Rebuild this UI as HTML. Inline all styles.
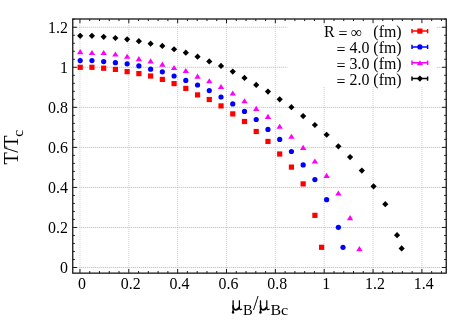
<!DOCTYPE html>
<html><head><meta charset="utf-8"><title>T/Tc vs muB/muBc</title>
<style>html,body{margin:0;padding:0;background:#fff;}body{width:475px;height:332px;overflow:hidden;}svg{display:block;}text{font-family:"Liberation Serif",serif;fill:#000;}svg{will-change:transform;}</style>
</head><body>
<svg width="475" height="332" viewBox="0 0 475 332">
<rect x="0" y="0" width="475" height="332" fill="#ffffff"/>
<g stroke="#cfcfcf" stroke-width="1" stroke-dasharray="1 1" fill="none">
<line x1="79.95" y1="19" x2="79.95" y2="273.15"/>
<line x1="128.8" y1="19" x2="128.8" y2="273.15"/>
<line x1="177.65" y1="19" x2="177.65" y2="273.15"/>
<line x1="226.5" y1="19" x2="226.5" y2="273.15"/>
<line x1="275.35" y1="19" x2="275.35" y2="273.15"/>
<line x1="324.2" y1="19" x2="324.2" y2="273.15"/>
<line x1="373.05" y1="19" x2="373.05" y2="273.15"/>
<line x1="421.9" y1="19" x2="421.9" y2="273.15"/>
</g>
<g stroke="#b6b6b6" stroke-width="1" stroke-dasharray="1 1" fill="none">
<line x1="72.75" y1="267.5" x2="446.25" y2="267.5"/>
<line x1="72.75" y1="227.46" x2="446.25" y2="227.46"/>
<line x1="72.75" y1="187.42" x2="446.25" y2="187.42"/>
<line x1="72.75" y1="147.38" x2="446.25" y2="147.38"/>
<line x1="72.75" y1="107.34" x2="446.25" y2="107.34"/>
<line x1="72.75" y1="67.3" x2="446.25" y2="67.3"/>
<line x1="72.75" y1="27.26" x2="446.25" y2="27.26"/>
</g>
<rect x="287.4" y="19.4" width="148.8" height="66.8" fill="#ffffff"/>
<g stroke="#1c1c1c" stroke-width="1" fill="none">
<line x1="79.95" y1="273.15" x2="79.95" y2="268.95"/>
<line x1="79.95" y1="19" x2="79.95" y2="23.2"/>
<line x1="89.72" y1="273.15" x2="89.72" y2="271.05"/>
<line x1="89.72" y1="19" x2="89.72" y2="21.1"/>
<line x1="99.49" y1="273.15" x2="99.49" y2="271.05"/>
<line x1="99.49" y1="19" x2="99.49" y2="21.1"/>
<line x1="109.26" y1="273.15" x2="109.26" y2="271.05"/>
<line x1="109.26" y1="19" x2="109.26" y2="21.1"/>
<line x1="119.03" y1="273.15" x2="119.03" y2="271.05"/>
<line x1="119.03" y1="19" x2="119.03" y2="21.1"/>
<line x1="128.8" y1="273.15" x2="128.8" y2="268.95"/>
<line x1="128.8" y1="19" x2="128.8" y2="23.2"/>
<line x1="138.57" y1="273.15" x2="138.57" y2="271.05"/>
<line x1="138.57" y1="19" x2="138.57" y2="21.1"/>
<line x1="148.34" y1="273.15" x2="148.34" y2="271.05"/>
<line x1="148.34" y1="19" x2="148.34" y2="21.1"/>
<line x1="158.11" y1="273.15" x2="158.11" y2="271.05"/>
<line x1="158.11" y1="19" x2="158.11" y2="21.1"/>
<line x1="167.88" y1="273.15" x2="167.88" y2="271.05"/>
<line x1="167.88" y1="19" x2="167.88" y2="21.1"/>
<line x1="177.65" y1="273.15" x2="177.65" y2="268.95"/>
<line x1="177.65" y1="19" x2="177.65" y2="23.2"/>
<line x1="187.42" y1="273.15" x2="187.42" y2="271.05"/>
<line x1="187.42" y1="19" x2="187.42" y2="21.1"/>
<line x1="197.19" y1="273.15" x2="197.19" y2="271.05"/>
<line x1="197.19" y1="19" x2="197.19" y2="21.1"/>
<line x1="206.96" y1="273.15" x2="206.96" y2="271.05"/>
<line x1="206.96" y1="19" x2="206.96" y2="21.1"/>
<line x1="216.73" y1="273.15" x2="216.73" y2="271.05"/>
<line x1="216.73" y1="19" x2="216.73" y2="21.1"/>
<line x1="226.5" y1="273.15" x2="226.5" y2="268.95"/>
<line x1="226.5" y1="19" x2="226.5" y2="23.2"/>
<line x1="236.27" y1="273.15" x2="236.27" y2="271.05"/>
<line x1="236.27" y1="19" x2="236.27" y2="21.1"/>
<line x1="246.04" y1="273.15" x2="246.04" y2="271.05"/>
<line x1="246.04" y1="19" x2="246.04" y2="21.1"/>
<line x1="255.81" y1="273.15" x2="255.81" y2="271.05"/>
<line x1="255.81" y1="19" x2="255.81" y2="21.1"/>
<line x1="265.58" y1="273.15" x2="265.58" y2="271.05"/>
<line x1="265.58" y1="19" x2="265.58" y2="21.1"/>
<line x1="275.35" y1="273.15" x2="275.35" y2="268.95"/>
<line x1="275.35" y1="19" x2="275.35" y2="23.2"/>
<line x1="285.12" y1="273.15" x2="285.12" y2="271.05"/>
<line x1="285.12" y1="19" x2="285.12" y2="21.1"/>
<line x1="294.89" y1="273.15" x2="294.89" y2="271.05"/>
<line x1="294.89" y1="19" x2="294.89" y2="21.1"/>
<line x1="304.66" y1="273.15" x2="304.66" y2="271.05"/>
<line x1="304.66" y1="19" x2="304.66" y2="21.1"/>
<line x1="314.43" y1="273.15" x2="314.43" y2="271.05"/>
<line x1="314.43" y1="19" x2="314.43" y2="21.1"/>
<line x1="324.2" y1="273.15" x2="324.2" y2="268.95"/>
<line x1="324.2" y1="19" x2="324.2" y2="23.2"/>
<line x1="333.97" y1="273.15" x2="333.97" y2="271.05"/>
<line x1="333.97" y1="19" x2="333.97" y2="21.1"/>
<line x1="343.74" y1="273.15" x2="343.74" y2="271.05"/>
<line x1="343.74" y1="19" x2="343.74" y2="21.1"/>
<line x1="353.51" y1="273.15" x2="353.51" y2="271.05"/>
<line x1="353.51" y1="19" x2="353.51" y2="21.1"/>
<line x1="363.28" y1="273.15" x2="363.28" y2="271.05"/>
<line x1="363.28" y1="19" x2="363.28" y2="21.1"/>
<line x1="373.05" y1="273.15" x2="373.05" y2="268.95"/>
<line x1="373.05" y1="19" x2="373.05" y2="23.2"/>
<line x1="382.82" y1="273.15" x2="382.82" y2="271.05"/>
<line x1="382.82" y1="19" x2="382.82" y2="21.1"/>
<line x1="392.59" y1="273.15" x2="392.59" y2="271.05"/>
<line x1="392.59" y1="19" x2="392.59" y2="21.1"/>
<line x1="402.36" y1="273.15" x2="402.36" y2="271.05"/>
<line x1="402.36" y1="19" x2="402.36" y2="21.1"/>
<line x1="412.13" y1="273.15" x2="412.13" y2="271.05"/>
<line x1="412.13" y1="19" x2="412.13" y2="21.1"/>
<line x1="421.9" y1="273.15" x2="421.9" y2="268.95"/>
<line x1="421.9" y1="19" x2="421.9" y2="23.2"/>
<line x1="431.67" y1="273.15" x2="431.67" y2="271.05"/>
<line x1="431.67" y1="19" x2="431.67" y2="21.1"/>
<line x1="441.44" y1="273.15" x2="441.44" y2="271.05"/>
<line x1="441.44" y1="19" x2="441.44" y2="21.1"/>
<line x1="72.75" y1="267.5" x2="76.95" y2="267.5"/>
<line x1="446.25" y1="267.5" x2="442.05" y2="267.5"/>
<line x1="72.75" y1="259.49" x2="74.85" y2="259.49"/>
<line x1="446.25" y1="259.49" x2="444.15" y2="259.49"/>
<line x1="72.75" y1="251.48" x2="74.85" y2="251.48"/>
<line x1="446.25" y1="251.48" x2="444.15" y2="251.48"/>
<line x1="72.75" y1="243.48" x2="74.85" y2="243.48"/>
<line x1="446.25" y1="243.48" x2="444.15" y2="243.48"/>
<line x1="72.75" y1="235.47" x2="74.85" y2="235.47"/>
<line x1="446.25" y1="235.47" x2="444.15" y2="235.47"/>
<line x1="72.75" y1="227.46" x2="76.95" y2="227.46"/>
<line x1="446.25" y1="227.46" x2="442.05" y2="227.46"/>
<line x1="72.75" y1="219.45" x2="74.85" y2="219.45"/>
<line x1="446.25" y1="219.45" x2="444.15" y2="219.45"/>
<line x1="72.75" y1="211.44" x2="74.85" y2="211.44"/>
<line x1="446.25" y1="211.44" x2="444.15" y2="211.44"/>
<line x1="72.75" y1="203.44" x2="74.85" y2="203.44"/>
<line x1="446.25" y1="203.44" x2="444.15" y2="203.44"/>
<line x1="72.75" y1="195.43" x2="74.85" y2="195.43"/>
<line x1="446.25" y1="195.43" x2="444.15" y2="195.43"/>
<line x1="72.75" y1="187.42" x2="76.95" y2="187.42"/>
<line x1="446.25" y1="187.42" x2="442.05" y2="187.42"/>
<line x1="72.75" y1="179.41" x2="74.85" y2="179.41"/>
<line x1="446.25" y1="179.41" x2="444.15" y2="179.41"/>
<line x1="72.75" y1="171.4" x2="74.85" y2="171.4"/>
<line x1="446.25" y1="171.4" x2="444.15" y2="171.4"/>
<line x1="72.75" y1="163.4" x2="74.85" y2="163.4"/>
<line x1="446.25" y1="163.4" x2="444.15" y2="163.4"/>
<line x1="72.75" y1="155.39" x2="74.85" y2="155.39"/>
<line x1="446.25" y1="155.39" x2="444.15" y2="155.39"/>
<line x1="72.75" y1="147.38" x2="76.95" y2="147.38"/>
<line x1="446.25" y1="147.38" x2="442.05" y2="147.38"/>
<line x1="72.75" y1="139.37" x2="74.85" y2="139.37"/>
<line x1="446.25" y1="139.37" x2="444.15" y2="139.37"/>
<line x1="72.75" y1="131.36" x2="74.85" y2="131.36"/>
<line x1="446.25" y1="131.36" x2="444.15" y2="131.36"/>
<line x1="72.75" y1="123.36" x2="74.85" y2="123.36"/>
<line x1="446.25" y1="123.36" x2="444.15" y2="123.36"/>
<line x1="72.75" y1="115.35" x2="74.85" y2="115.35"/>
<line x1="446.25" y1="115.35" x2="444.15" y2="115.35"/>
<line x1="72.75" y1="107.34" x2="76.95" y2="107.34"/>
<line x1="446.25" y1="107.34" x2="442.05" y2="107.34"/>
<line x1="72.75" y1="99.33" x2="74.85" y2="99.33"/>
<line x1="446.25" y1="99.33" x2="444.15" y2="99.33"/>
<line x1="72.75" y1="91.32" x2="74.85" y2="91.32"/>
<line x1="446.25" y1="91.32" x2="444.15" y2="91.32"/>
<line x1="72.75" y1="83.32" x2="74.85" y2="83.32"/>
<line x1="446.25" y1="83.32" x2="444.15" y2="83.32"/>
<line x1="72.75" y1="75.31" x2="74.85" y2="75.31"/>
<line x1="446.25" y1="75.31" x2="444.15" y2="75.31"/>
<line x1="72.75" y1="67.3" x2="76.95" y2="67.3"/>
<line x1="446.25" y1="67.3" x2="442.05" y2="67.3"/>
<line x1="72.75" y1="59.29" x2="74.85" y2="59.29"/>
<line x1="446.25" y1="59.29" x2="444.15" y2="59.29"/>
<line x1="72.75" y1="51.28" x2="74.85" y2="51.28"/>
<line x1="446.25" y1="51.28" x2="444.15" y2="51.28"/>
<line x1="72.75" y1="43.28" x2="74.85" y2="43.28"/>
<line x1="446.25" y1="43.28" x2="444.15" y2="43.28"/>
<line x1="72.75" y1="35.27" x2="74.85" y2="35.27"/>
<line x1="446.25" y1="35.27" x2="444.15" y2="35.27"/>
<line x1="72.75" y1="27.26" x2="76.95" y2="27.26"/>
<line x1="446.25" y1="27.26" x2="442.05" y2="27.26"/>
<line x1="72.75" y1="19.25" x2="74.85" y2="19.25"/>
<line x1="446.25" y1="19.25" x2="444.15" y2="19.25"/>
</g>
<rect x="72.75" y="19" width="373.5" height="254.15" fill="none" stroke="#1c1c1c" stroke-width="1.33"/>
<g font-size="15.9px">
<text transform="translate(81.85,288.7) scale(1,1.07)" text-anchor="middle">0</text>
<text transform="translate(130.7,288.7) scale(1,1.07)" text-anchor="middle">0.2</text>
<text transform="translate(179.55,288.7) scale(1,1.07)" text-anchor="middle">0.4</text>
<text transform="translate(228.4,288.7) scale(1,1.07)" text-anchor="middle">0.6</text>
<text transform="translate(277.25,288.7) scale(1,1.07)" text-anchor="middle">0.8</text>
<text transform="translate(326.1,288.7) scale(1,1.07)" text-anchor="middle">1</text>
<text transform="translate(374.95,288.7) scale(1,1.07)" text-anchor="middle">1.2</text>
<text transform="translate(423.8,288.7) scale(1,1.07)" text-anchor="middle">1.4</text>
<text transform="translate(67.9,272.9) scale(1,1.07)" text-anchor="end">0</text>
<text transform="translate(67.9,232.86) scale(1,1.07)" text-anchor="end">0.2</text>
<text transform="translate(67.9,192.82) scale(1,1.07)" text-anchor="end">0.4</text>
<text transform="translate(67.9,152.78) scale(1,1.07)" text-anchor="end">0.6</text>
<text transform="translate(67.9,112.74) scale(1,1.07)" text-anchor="end">0.8</text>
<text transform="translate(67.9,72.7) scale(1,1.07)" text-anchor="end">1</text>
<text transform="translate(67.9,32.66) scale(1,1.07)" text-anchor="end">1.2</text>
</g>
<text transform="translate(17.6,164.4) rotate(-90)" font-size="20px" letter-spacing="-0.55">T/T<tspan font-size="15.5px" dy="5.8" dx="-0.6">c</tspan></text>
<g transform="translate(233.1,300.3)" stroke="#000" fill="none" stroke-width="1.3">
<path d="M0 0 V12.2"/>
<path d="M6.3 0 V7.4 C6.3 9.3 7.2 9.9 9.1 8.7" stroke-width="1.25"/>
<path d="M0 5.0 C0 9.5 1.4 9.6 2.6 9.6 C4.1 9.6 5.5 8.5 6.3 6.6" stroke-width="1.7"/>
<ellipse cx="-0.05" cy="12.0" rx="1.15" ry="1.5" fill="#000" stroke="none"/>
</g>
<g transform="translate(260.5,300.3)" stroke="#000" fill="none" stroke-width="1.3">
<path d="M0 0 V12.2"/>
<path d="M6.3 0 V7.4 C6.3 9.3 7.2 9.9 9.1 8.7" stroke-width="1.25"/>
<path d="M0 5.0 C0 9.5 1.4 9.6 2.6 9.6 C4.1 9.6 5.5 8.5 6.3 6.6" stroke-width="1.7"/>
<ellipse cx="-0.05" cy="12.0" rx="1.15" ry="1.5" fill="#000" stroke="none"/>
</g>
<text x="243.0" y="315.0" font-size="14.5px">B</text>
<text x="252.9" y="310.2" font-size="20px">/</text>
<text transform="translate(270.4,315.0) scale(1.1,1)" font-size="14.5px">Bc</text>
<g font-size="15.9px">
<text transform="translate(323.9,37.2) scale(1,1.07)">R <tspan dy="1.9">=</tspan></text>
<text transform="translate(351.0,38.4) scale(1,1.07)" font-size="15.8px">∞</text>
<text transform="translate(401.6,37.2) scale(1,1.07)" text-anchor="end">(fm)</text>
<text transform="translate(401.6,53) scale(1,1.07)" text-anchor="end"><tspan dy="1.9">=</tspan><tspan dy="-1.9"> 4.0 (fm)</tspan></text>
<text transform="translate(401.6,68.85) scale(1,1.07)" text-anchor="end"><tspan dy="1.9">=</tspan><tspan dy="-1.9"> 3.0 (fm)</tspan></text>
<text transform="translate(401.6,84.7) scale(1,1.07)" text-anchor="end"><tspan dy="1.9">=</tspan><tspan dy="-1.9"> 2.0 (fm)</tspan></text>
</g>
<path d="M412.0 31.1 H427.6 M412.0 28.9 V33.3 M427.6 28.9 V33.3" stroke="#ff0000" stroke-width="1.5" fill="none"/>
<path d="M412.0 46.9 H427.6 M412.0 44.7 V49.1 M427.6 44.7 V49.1" stroke="#0000ff" stroke-width="1.5" fill="none"/>
<path d="M412.0 62.75 H427.6 M412.0 60.55 V64.95 M427.6 60.55 V64.95" stroke="#ff00ff" stroke-width="1.5" fill="none"/>
<path d="M412.0 78.6 H427.6 M412.0 76.4 V80.8 M427.6 76.4 V80.8" stroke="#000000" stroke-width="1.5" fill="none"/>
<rect x="77.6" y="64.7" width="5.2" height="5.2" fill="#ff0000"/>
<rect x="89.34" y="64.7" width="5.2" height="5.2" fill="#ff0000"/>
<rect x="101.07" y="65.6" width="5.2" height="5.2" fill="#ff0000"/>
<rect x="112.81" y="66.8" width="5.2" height="5.2" fill="#ff0000"/>
<rect x="124.54" y="69.05" width="5.2" height="5.2" fill="#ff0000"/>
<rect x="136.28" y="71" width="5.2" height="5.2" fill="#ff0000"/>
<rect x="148.01" y="73.4" width="5.2" height="5.2" fill="#ff0000"/>
<rect x="159.75" y="76.8" width="5.2" height="5.2" fill="#ff0000"/>
<rect x="171.48" y="81" width="5.2" height="5.2" fill="#ff0000"/>
<rect x="183.22" y="85.8" width="5.2" height="5.2" fill="#ff0000"/>
<rect x="194.95" y="92.3" width="5.2" height="5.2" fill="#ff0000"/>
<rect x="206.68" y="96.9" width="5.2" height="5.2" fill="#ff0000"/>
<rect x="218.42" y="103.3" width="5.2" height="5.2" fill="#ff0000"/>
<rect x="230.16" y="111.3" width="5.2" height="5.2" fill="#ff0000"/>
<rect x="241.89" y="118.9" width="5.2" height="5.2" fill="#ff0000"/>
<rect x="253.62" y="128.9" width="5.2" height="5.2" fill="#ff0000"/>
<rect x="265.36" y="138.85" width="5.2" height="5.2" fill="#ff0000"/>
<rect x="277.09" y="151.4" width="5.2" height="5.2" fill="#ff0000"/>
<rect x="288.83" y="164.5" width="5.2" height="5.2" fill="#ff0000"/>
<rect x="300.56" y="181.3" width="5.2" height="5.2" fill="#ff0000"/>
<rect x="312.3" y="212.75" width="5.2" height="5.2" fill="#ff0000"/>
<rect x="319" y="244.7" width="5.2" height="5.2" fill="#ff0000"/>
<circle cx="80.2" cy="60.55" r="2.6" fill="#0000ff"/>
<circle cx="91.94" cy="60.55" r="2.6" fill="#0000ff"/>
<circle cx="103.67" cy="61.55" r="2.6" fill="#0000ff"/>
<circle cx="115.41" cy="62.65" r="2.6" fill="#0000ff"/>
<circle cx="127.14" cy="63.85" r="2.6" fill="#0000ff"/>
<circle cx="138.88" cy="65.9" r="2.6" fill="#0000ff"/>
<circle cx="150.61" cy="69.2" r="2.6" fill="#0000ff"/>
<circle cx="162.34" cy="71.8" r="2.6" fill="#0000ff"/>
<circle cx="174.08" cy="76" r="2.6" fill="#0000ff"/>
<circle cx="185.81" cy="80.4" r="2.6" fill="#0000ff"/>
<circle cx="197.55" cy="85" r="2.6" fill="#0000ff"/>
<circle cx="209.28" cy="90.55" r="2.6" fill="#0000ff"/>
<circle cx="221.02" cy="97" r="2.6" fill="#0000ff"/>
<circle cx="232.75" cy="103.9" r="2.6" fill="#0000ff"/>
<circle cx="244.49" cy="111.45" r="2.6" fill="#0000ff"/>
<circle cx="256.22" cy="119.5" r="2.6" fill="#0000ff"/>
<circle cx="267.96" cy="129.4" r="2.6" fill="#0000ff"/>
<circle cx="279.69" cy="139.45" r="2.6" fill="#0000ff"/>
<circle cx="291.43" cy="151.5" r="2.6" fill="#0000ff"/>
<circle cx="303.16" cy="164.9" r="2.6" fill="#0000ff"/>
<circle cx="314.9" cy="179.55" r="2.6" fill="#0000ff"/>
<circle cx="326.63" cy="199.7" r="2.6" fill="#0000ff"/>
<circle cx="338.37" cy="227.3" r="2.6" fill="#0000ff"/>
<circle cx="343" cy="247.3" r="2.6" fill="#0000ff"/>
<path d="M80.2 49.1 L77 54.2 L83.4 54.2 Z" fill="#ff00ff"/>
<path d="M91.94 49.9 L88.73 55 L95.14 55 Z" fill="#ff00ff"/>
<path d="M103.67 49.9 L100.47 55 L106.87 55 Z" fill="#ff00ff"/>
<path d="M115.41 51.4 L112.2 56.5 L118.61 56.5 Z" fill="#ff00ff"/>
<path d="M127.14 53.65 L123.94 58.75 L130.34 58.75 Z" fill="#ff00ff"/>
<path d="M138.88 56.1 L135.68 61.2 L142.07 61.2 Z" fill="#ff00ff"/>
<path d="M150.61 58.3 L147.41 63.4 L153.81 63.4 Z" fill="#ff00ff"/>
<path d="M162.34 61.6 L159.15 66.7 L165.54 66.7 Z" fill="#ff00ff"/>
<path d="M174.08 64.95 L170.88 70.05 L177.28 70.05 Z" fill="#ff00ff"/>
<path d="M185.81 68 L182.62 73.1 L189.01 73.1 Z" fill="#ff00ff"/>
<path d="M197.55 73.6 L194.35 78.7 L200.75 78.7 Z" fill="#ff00ff"/>
<path d="M209.28 78.15 L206.08 83.25 L212.48 83.25 Z" fill="#ff00ff"/>
<path d="M221.02 83.95 L217.82 89.05 L224.22 89.05 Z" fill="#ff00ff"/>
<path d="M232.75 90.5 L229.56 95.6 L235.95 95.6 Z" fill="#ff00ff"/>
<path d="M244.49 98.15 L241.29 103.25 L247.69 103.25 Z" fill="#ff00ff"/>
<path d="M256.22 105.85 L253.02 110.95 L259.42 110.95 Z" fill="#ff00ff"/>
<path d="M267.96 113.85 L264.76 118.95 L271.16 118.95 Z" fill="#ff00ff"/>
<path d="M279.69 123.7 L276.5 128.8 L282.89 128.8 Z" fill="#ff00ff"/>
<path d="M291.43 133.75 L288.23 138.85 L294.63 138.85 Z" fill="#ff00ff"/>
<path d="M303.16 144.85 L299.96 149.95 L306.36 149.95 Z" fill="#ff00ff"/>
<path d="M314.9 158.4 L311.7 163.5 L318.1 163.5 Z" fill="#ff00ff"/>
<path d="M326.63 172.8 L323.44 177.9 L329.83 177.9 Z" fill="#ff00ff"/>
<path d="M338.37 190.5 L335.17 195.6 L341.57 195.6 Z" fill="#ff00ff"/>
<path d="M350.1 215.05 L346.9 220.15 L353.3 220.15 Z" fill="#ff00ff"/>
<path d="M359.4 246.1 L356.2 251.2 L362.6 251.2 Z" fill="#ff00ff"/>
<path d="M80.2 32.7 L83.3 35.8 L80.2 38.9 L77.1 35.8 Z" fill="#000000"/>
<path d="M91.94 32.7 L95.03 35.8 L91.94 38.9 L88.84 35.8 Z" fill="#000000"/>
<path d="M103.67 33.7 L106.77 36.8 L103.67 39.9 L100.57 36.8 Z" fill="#000000"/>
<path d="M115.41 34.9 L118.5 38 L115.41 41.1 L112.31 38 Z" fill="#000000"/>
<path d="M127.14 36.2 L130.24 39.3 L127.14 42.4 L124.04 39.3 Z" fill="#000000"/>
<path d="M138.88 38.1 L141.97 41.2 L138.88 44.3 L135.78 41.2 Z" fill="#000000"/>
<path d="M150.61 40.55 L153.71 43.65 L150.61 46.75 L147.51 43.65 Z" fill="#000000"/>
<path d="M162.34 42.8 L165.44 45.9 L162.34 49 L159.25 45.9 Z" fill="#000000"/>
<path d="M174.08 46.15 L177.18 49.25 L174.08 52.35 L170.98 49.25 Z" fill="#000000"/>
<path d="M185.81 49.6 L188.91 52.7 L185.81 55.8 L182.72 52.7 Z" fill="#000000"/>
<path d="M197.55 53.6 L200.65 56.7 L197.55 59.8 L194.45 56.7 Z" fill="#000000"/>
<path d="M209.28 58.3 L212.38 61.4 L209.28 64.5 L206.18 61.4 Z" fill="#000000"/>
<path d="M221.02 62.8 L224.12 65.9 L221.02 69 L217.92 65.9 Z" fill="#000000"/>
<path d="M232.75 68.5 L235.85 71.6 L232.75 74.7 L229.66 71.6 Z" fill="#000000"/>
<path d="M244.49 74.8 L247.59 77.9 L244.49 81 L241.39 77.9 Z" fill="#000000"/>
<path d="M256.22 81.8 L259.32 84.9 L256.22 88 L253.12 84.9 Z" fill="#000000"/>
<path d="M267.96 88.5 L271.06 91.6 L267.96 94.7 L264.86 91.6 Z" fill="#000000"/>
<path d="M279.69 96.25 L282.8 99.35 L279.69 102.45 L276.59 99.35 Z" fill="#000000"/>
<path d="M291.43 104.1 L294.53 107.2 L291.43 110.3 L288.33 107.2 Z" fill="#000000"/>
<path d="M303.16 113 L306.26 116.1 L303.16 119.2 L300.06 116.1 Z" fill="#000000"/>
<path d="M314.9 121.9 L318 125 L314.9 128.1 L311.8 125 Z" fill="#000000"/>
<path d="M326.63 131.65 L329.74 134.75 L326.63 137.85 L323.53 134.75 Z" fill="#000000"/>
<path d="M338.37 143.25 L341.47 146.35 L338.37 149.45 L335.27 146.35 Z" fill="#000000"/>
<path d="M350.1 154 L353.2 157.1 L350.1 160.2 L347 157.1 Z" fill="#000000"/>
<path d="M361.84 167.5 L364.94 170.6 L361.84 173.7 L358.74 170.6 Z" fill="#000000"/>
<path d="M373.57 183.2 L376.68 186.3 L373.57 189.4 L370.47 186.3 Z" fill="#000000"/>
<path d="M385.31 201.1 L388.41 204.2 L385.31 207.3 L382.21 204.2 Z" fill="#000000"/>
<path d="M397.04 232.1 L400.14 235.2 L397.04 238.3 L393.94 235.2 Z" fill="#000000"/>
<path d="M401.65 245.3 L404.75 248.4 L401.65 251.5 L398.55 248.4 Z" fill="#000000"/>
<rect x="417.3" y="28.5" width="5.2" height="5.2" fill="#ff0000"/>
<circle cx="419.9" cy="46.9" r="2.6" fill="#0000ff"/>
<path d="M419.9 60.15 L416.7 65.25 L423.1 65.25 Z" fill="#ff00ff"/>
<path d="M419.9 75.5 L423 78.6 L419.9 81.7 L416.8 78.6 Z" fill="#000000"/>
</svg>
</body></html>
